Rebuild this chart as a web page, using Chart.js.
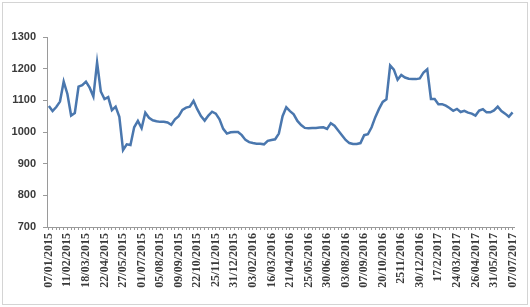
<!DOCTYPE html>
<html>
<head>
<meta charset="utf-8">
<title>Chart</title>
<script src="https://cdn.jsdelivr.net/npm/chart.js"></script>
<style>
    body { margin: 0; padding: 0; background: #ffffff; }
    #lineChartCanvasId { display: block; }
</style>
</head>
<body>
<canvas id="lineChartCanvasId" width="530" height="307"></canvas>
<script>
// date labels that are written under the axis (every 5th week)
var tickLabels = [
    '07/01/2015', '11/02/2015', '18/03/2015', '22/04/2015', '27/05/2015',
    '01/07/2015', '05/08/2015', '09/09/2015', '22/10/2015', '25/11/2015',
    '31/12/2015', '03/02/2016', '16/03/2016', '21/04/2016', '25/05/2016',
    '30/06/2016', '03/08/2016', '07/09/2016', '20/10/2016', '2511/2016',
    '30/12/2016', '17/2/2017', '24/03/2017', '26/04/2017', '31/05/2017',
    '07/07/2017'
];

// weekly values
var values = [
    1082, 1066, 1079, 1096, 1159, 1120, 1052, 1060, 1143, 1148,
    1159, 1140, 1112, 1220, 1128, 1104, 1110, 1069, 1080, 1048,
    943, 961, 959, 1015, 1035, 1012, 1061, 1045, 1037, 1034,
    1032, 1032, 1030, 1023, 1040, 1050, 1070, 1077, 1080, 1098,
    1072, 1050, 1036, 1052, 1064, 1058, 1040, 1010, 995, 999,
    1000, 1000, 990, 975, 968, 965, 963, 963, 961, 972,
    975, 977, 995, 1050, 1078, 1066, 1056, 1035, 1022, 1013,
    1012, 1013, 1013, 1014, 1015, 1010, 1028, 1020, 1005, 990,
    975, 965, 962, 962, 965, 990, 993, 1015, 1047, 1073,
    1095, 1103, 1210, 1197, 1165, 1180, 1172, 1168, 1167, 1167,
    1169, 1188, 1198, 1104, 1104, 1088, 1088, 1083, 1076, 1067,
    1073, 1063, 1067, 1061, 1058, 1052, 1068, 1072, 1062, 1062,
    1068, 1080, 1066, 1058, 1048, 1062
];

var yTicks = [700, 800, 900, 1000, 1100, 1200, 1300];

// one category per week, only every 5th one gets a label
var labels = values.map(function (v, i) {
    return (i % 5 === 0) ? tickLabels[i / 5] : '';
});

// grey frame round the whole picture
var framePlugin = {
    id: 'frame',
    beforeDraw: function (chart) {
        var ctx = chart.ctx;
        ctx.save();
        ctx.fillStyle = '#ffffff';
        ctx.fillRect(0, 0, chart.width, chart.height);
        ctx.strokeStyle = '#d4d4d4';
        ctx.lineWidth = 1;
        ctx.strokeRect(2.5, 2.5, 525, 302);
        ctx.restore();
    }
};

var ctx = document.getElementById('lineChartCanvasId').getContext('2d');
var lineChart = new Chart(ctx, {
    type: 'line',
    data: {
        labels: labels,
        datasets: [{
            data: values,
            borderColor: '#4a77ae',
            borderWidth: 2.5,
            pointRadius: 0,
            tension: 0,
            fill: false
        }]
    },
    options: {
        responsive: false,
        animation: false,
        layout: {
            padding: { left: 0, right: 9, top: 37, bottom: 0 }
        },
        plugins: {
            legend: { display: false },
            tooltip: { enabled: false }
        },
        scales: {
            x: {
                offset: true,
                grid: {
                    display: true,
                    drawOnChartArea: false,
                    drawTicks: true,
                    tickLength: 3,
                    color: '#9a9a9a'
                },
                border: { display: true, color: '#9a9a9a', width: 1 },
                ticks: {
                    autoSkip: false,
                    maxRotation: 90,
                    minRotation: 90,
                    padding: 3,
                    color: '#3a3a3a',
                    font: { family: '"Liberation Serif", serif', size: 12, weight: 'bold' }
                },
                afterFit: function (scale) {
                    scale.height = 80; // axis line sits at y=227
                }
            },
            y: {
                min: 700,
                max: 1300,
                afterBuildTicks: function (scale) {
                    scale.ticks = yTicks.map(function (v) { return { value: v }; });
                },
                grid: {
                    display: true,
                    drawOnChartArea: false,
                    drawTicks: true,
                    tickLength: 4,
                    color: '#9a9a9a'
                },
                border: { display: true, color: '#9a9a9a', width: 1 },
                ticks: {
                    padding: 7,
                    color: '#3a3a3a',
                    font: { family: '"Liberation Sans", sans-serif', size: 11, weight: 'bold' },
                    callback: function (value) {
                        return String(value); // no thousands comma
                    }
                },
                afterFit: function (scale) {
                    scale.width = 47;
                }
            }
        }
    },
    plugins: [framePlugin]
});
</script>
</body>
</html>
